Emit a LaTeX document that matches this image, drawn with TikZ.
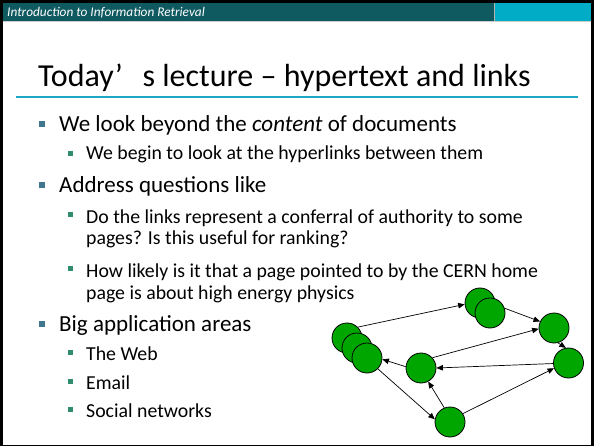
\documentclass[tikz,border=0pt]{standalone}
\usepackage{fontspec}
\setmainfont{Carlito}
\usetikzlibrary{arrows.meta}

\definecolor{barteal}{HTML}{0F5961}
\definecolor{barcyan}{HTML}{00ACC6}
\definecolor{rulecyan}{HTML}{1BA9C3}
\definecolor{bulletblue}{HTML}{41768F}
\definecolor{bulletgreen}{HTML}{2F8C6C}
\definecolor{pagegreen}{HTML}{00A600}

\begin{document}
\begin{tikzpicture}[
	x=1pt, y=-1pt,
	page/.style = {circle, draw=black, line width=0.8pt, fill=pagegreen, minimum size=30pt, inner sep=0pt},
	link/.style = {-{Triangle[length=6.5pt,width=5.5pt]}, line width=0.7pt},
	topitem/.style = {anchor=base west, inner sep=0pt, font=\fontsize{23}{27}\selectfont},
	subitem/.style = {anchor=base west, inner sep=0pt, font=\fontsize{19.8}{23}\selectfont}
]
\useasboundingbox (0,0) rectangle (594,446);

% slide frame and header bar
\fill[black] (0,0) rectangle (594,446);
\fill[white] (3,3) rectangle (591,445);
\fill[barteal] (3,3) rectangle (494,21);
\fill[barcyan] (494,3) rectangle (591,21);
\draw[gray!40, line width=1pt] (3,21.5) -- (591,21.5);
\draw[gray!60, line width=0.8pt] (494,3) -- (494,21);
\node[anchor=base west, inner sep=0pt, text=white, font=\fontsize{13.3}{15}\selectfont\itshape] (course) at (7,17) {Introduction to Information Retrieval};

% title
\node[anchor=base west, inner sep=0pt, font=\fontsize{32}{38}\selectfont] (title) at (38,87) {Today’\kern0.62em s lecture – hypertext and links};
\draw[rulecyan, line width=2pt] (16,97) -- (578,97);

% bullets
\foreach \y in {124,185,324}
	\fill[bulletblue] (39,\y-3) rectangle ++(6,6);
\foreach \y in {154,215,269,352,381,409}
	\fill[bulletgreen] (68,\y-2.5) rectangle ++(5,5);

\node[topitem] (beyond) at (59,132) {We look beyond the \textit{content} of documents};
\node[subitem] (begin) at (86,160) {We begin to look at the hyperlinks between them};
\node[topitem] (address) at (59,193) {Address questions like};
\node[subitem] (conferA) at (86,224) {Do the links represent a conferral of authority to some};
\node[subitem] (conferB) at (86,245) {pages? Is this useful for ranking?};
\node[subitem] (cernA) at (86,278) {How likely is it that a page pointed to by the CERN home};
\node[subitem] (cernB) at (86,299) {page is about high energy physics};
\node[topitem] (areas) at (59,331) {Big application areas};
\node[subitem] (web) at (86,360) {The Web};
\node[subitem] (email) at (86,389) {Email};
\node[subitem] (social) at (86,417) {Social networks};

% link graph
\node[page] (l1) at (347,338) {};
\node[page] (l2) at (357,348) {};
\node[page] (l3) at (367,358) {};
\node[page] (t1) at (480,303) {};
\node[page] (t2) at (490,313) {};
\node[page] (rt) at (554,328) {};
\node[page] (rm) at (568.5,363) {};
\node[page] (mid) at (421,368) {};
\node[page] (bot) at (450,422) {};

\draw[link] (l1.45) -- (t1.185);
\draw[link] (t2.18) -- (rt.155);
\draw[link] (mid.42) -- (rt.183);
\draw[link] (rt.-75) -- (rm.100);
\draw[link] (rm.182) -- (mid.0);
\draw[link] (mid.175) -- (l3.-5);
\draw[link] (l3.-45) -- (bot.170);
\draw[link] (bot.112) -- (mid.-62);
\draw[link] (bot.33) -- (rm.200);

\end{tikzpicture}
\end{document}
